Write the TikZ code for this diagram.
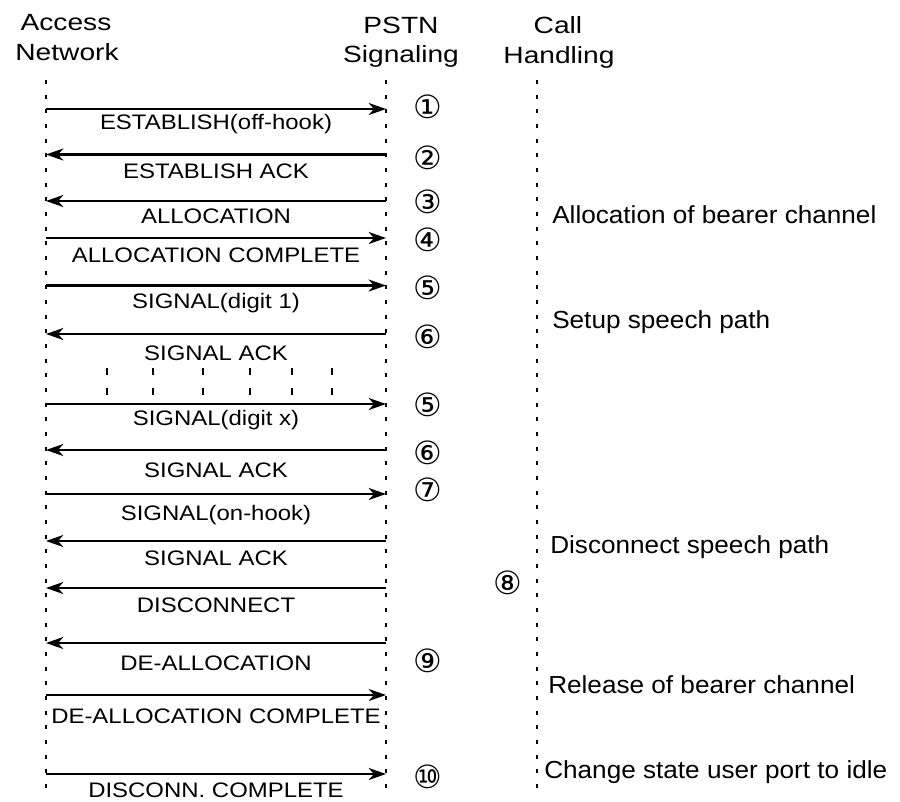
\documentclass[tikz,border=0pt]{standalone}
\usepackage{fontspec}
\setmainfont{Liberation Sans}
\newfontfamily\hdrfont[FakeStretch=1.2]{Liberation Sans}
\newfontfamily\msgfont[FakeStretch=1.14]{Liberation Sans}
\newfontfamily\notefont[FakeStretch=1.06]{Liberation Sans}
\newfontfamily\numfont{DejaVu Sans}
\usetikzlibrary{arrows.meta}

\tikzset{
  hdr/.style={font=\hdrfont\fontsize{17.6pt}{21pt}\selectfont, anchor=base, inner sep=0pt},
  msglbl/.style={font=\msgfont\fontsize{15.75pt}{18pt}\selectfont, anchor=base, inner sep=0pt},
  note/.style={font=\notefont\fontsize{18.5pt}{22pt}\selectfont, anchor=base west, inner sep=0pt},
  stepnum/.style={font=\numfont\fontsize{24pt}{26pt}\selectfont, inner sep=0pt},
  life/.style={line width=1.6pt, dash pattern=on 3pt off 8pt},
  fwd/.style={line width=1.8pt, -{Stealth[length=13pt,width=9pt,inset=4pt]}},
  bwd/.style={line width=1.8pt, {Stealth[length=13pt,width=9pt,inset=4pt]}-},
  tickmark/.style={line width=1.1pt, dash pattern=on 5.25pt off 9.75pt},
}

\begin{document}
\begin{tikzpicture}[x=0.75pt,y=-0.75pt]
  \useasboundingbox (0,0) rectangle (900,801);

  % column headers
  \node[hdr] (hA1) at (66,30) {Access};
  \node[hdr] (hA2) at (67,60) {Network};
  \node[hdr] (hP1) at (401,33) {PSTN};
  \node[hdr] (hP2) at (401,62) {Signaling};
  \node[hdr] (hC1) at (558,33) {Call};
  \node[hdr] (hC2) at (559,63) {Handling};

  % lifelines
  \coordinate (an-top) at (46,80);
  \coordinate (an-bot) at (46,798);
  \coordinate (ps-top) at (386,80);
  \coordinate (ps-bot) at (386,798);
  \coordinate (ch-top) at (537,80);
  \coordinate (ch-bot) at (537,798);
  \draw[life] (an-top) -- (an-bot);
  \draw[life] (ps-top) -- (ps-bot);
  \draw[life] (ch-top) -- (ch-bot);

  % messages: arrow height / direction / label / label baseline offset
  \foreach \y/\dir/\txt/\off [count=\i] in {
      109/fwd/{ESTABLISH(off-hook)}/20,
      154.5/bwd/{ESTABLISH ACK}/23.5,
      201/bwd/{ALLOCATION}/22,
      238/fwd/{ALLOCATION COMPLETE}/24,
      285.5/fwd/{SIGNAL(digit 1)}/23,
      334/bwd/{SIGNAL ACK}/26,
      404/fwd/{SIGNAL(digit x)}/21,
      450/bwd/{SIGNAL ACK}/27,
      494/fwd/{SIGNAL(on-hook)}/26,
      541/bwd/{SIGNAL ACK}/24,
      588/bwd/{DISCONNECT}/24,
      643/bwd/{DE-ALLOCATION}/27,
      695/fwd/{DE-ALLOCATION COMPLETE}/28,
      774/fwd/{DISCONN. COMPLETE}/23} {
    \coordinate (a\i) at (46,\y);
    \coordinate (p\i) at (386,\y);
    \draw[\dir] (a\i) -- node[msglbl, yshift={-\off*0.75pt}] (m\i) {\txt} (p\i);
  }

  % repeated digits
  \foreach \x in {107,153,203,250,292,332}
    \draw[tickmark] (\x,368) -- (\x,396);

  % step numbers
  \foreach \y/\n [count=\i] in {107/①,158/②,202/③,240/④,288/⑤,337/⑥,405/⑤,453/⑥,490/⑦,661/⑨,777/⑩}
    \node[stepnum] (s\i) at (428,\y) {\n};
  \node[stepnum] (s8) at (508,583) {⑧};

  % call handling actions
  \node[note] (n1) at (552,223) {Allocation of bearer channel};
  \node[note] (n2) at (552,328) {Setup speech path};
  \node[note] (n3) at (550,553) {Disconnect speech path};
  \node[note] (n4) at (548,693) {Release of bearer channel};
  \node[note] (n5) at (544,778) {Change state user port to idle};
\end{tikzpicture}
\end{document}
